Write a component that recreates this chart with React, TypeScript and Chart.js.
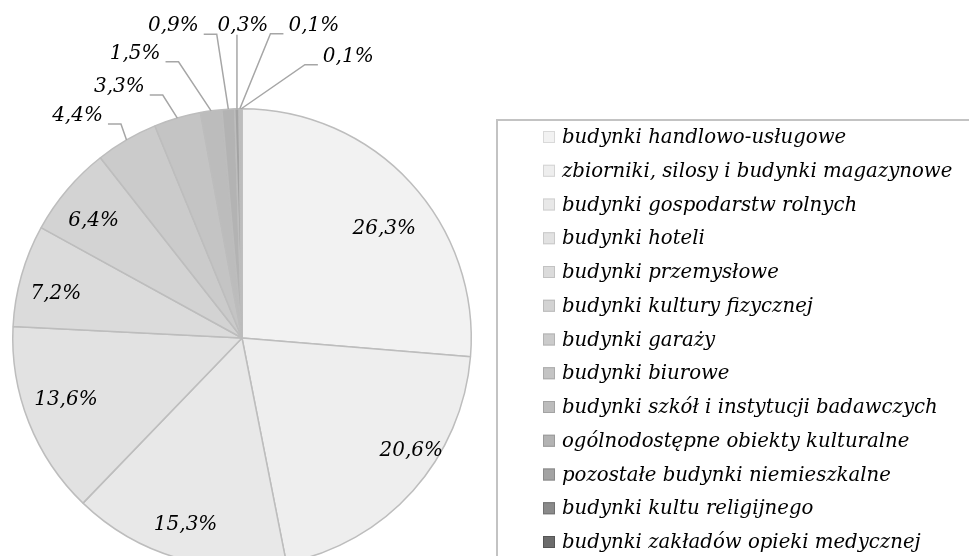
import React, { useEffect, useRef } from "react";
import { Chart, registerables } from "chart.js";

Chart.register(...registerables);

const CATEGORIES = [
  "budynki handlowo-usługowe",
  "zbiorniki, silosy i budynki magazynowe",
  "budynki gospodarstw rolnych",
  "budynki hoteli",
  "budynki przemysłowe",
  "budynki kultury fizycznej",
  "budynki garaży",
  "budynki biurowe",
  "budynki szkół i instytucji badawczych",
  "ogólnodostępne obiekty kulturalne",
  "pozostałe budynki niemieszkalne",
  "budynki kultu religijnego",
  "budynki zakładów opieki medycznej",
];

const SHARES = [26.3, 20.6, 15.3, 13.6, 7.2, 6.4, 4.4, 3.3, 1.5, 0.9, 0.3, 0.1, 0.1];

const COLORS = [
  "#f2f2f2", "#eeeeee", "#e8e8e8", "#e2e2e2", "#dbdbdb", "#d3d3d3", "#cbcbcb",
  "#c4c4c4", "#bcbcbc", "#b3b3b3", "#a3a3a3", "#8a8a8a", "#6c6c6c",
];

const SWATCH_BORDERS = [
  "#d9d9d9", "#d4d4d4", "#cfcfcf", "#c9c9c9", "#c2c2c2", "#bbbbbb", "#b3b3b3",
  "#ababab", "#a3a3a3", "#9a9a9a", "#8a8a8a", "#707070", "#555555",
];

// layout (not data)
const FONT_FAMILY = "'DejaVu Serif'";
const LABEL_FONT = `italic 20px ${FONT_FAMILY}`;
const LEGEND_FONT = `italic 19.7px ${FONT_FAMILY}`;
const TEXT_COLOR = "#000000";
const INSIDE_FRAC = 0.826;
const INSIDE_NUDGE: Record<number, [number, number]> = {
  0: [3, 19],
  1: [28, -13],
  2: [-3, 5],
  3: [0, -8],
  4: [-4, 7],
  5: [-4, 5],
};
const OUTSIDE_OFFSET: Record<number, [number, number]> = {
  6: [-49, -24],
  7: [-58, -31],
  8: [-76, -57],
  9: [-55, -83],
  10: [6, -83],
  11: [74, -83],
  12: [107, -52],
};

const fmt = (v: number) => v.toFixed(1).replace(".", ",") + "%";

const labelsPlugin = {
  id: "pieLabels",
  afterDatasetsDraw(chart: any) {
    const ctx = chart.ctx as CanvasRenderingContext2D;
    const meta = chart.getDatasetMeta(0);
    const values = chart.data.datasets[0].data as number[];
    ctx.save();
    ctx.font = LABEL_FONT;
    ctx.textAlign = "center";
    ctx.textBaseline = "middle";
    meta.data.forEach((arc: any, i: number) => {
      const { x, y, startAngle, endAngle, outerRadius } = arc.getProps(
        ["x", "y", "startAngle", "endAngle", "outerRadius"],
        true
      );
      const a = (startAngle + endAngle) / 2;
      const text = fmt(values[i]);
      if (OUTSIDE_OFFSET[i]) {
        const ax = x + Math.cos(a) * outerRadius;
        const ay = y + Math.sin(a) * outerRadius;
        const [dx, dy] = OUTSIDE_OFFSET[i];
        const lx = ax + dx;
        const ly = ay + dy;
        const w = ctx.measureText(text).width;
        const lineY = ly + 8;
        ctx.strokeStyle = "#a6a6a6";
        ctx.lineWidth = 1.5;
        ctx.beginPath();
        if (Math.abs(lx - ax) < w / 2) {
          ctx.moveTo(ax, ly + 9);
          ctx.lineTo(ax, ay);
        } else if (lx < ax) {
          const x0 = lx + w / 2 + 5;
          ctx.moveTo(x0, lineY);
          ctx.lineTo(x0 + 13, lineY);
          ctx.lineTo(ax, ay);
        } else {
          const x0 = lx - w / 2 - 5;
          ctx.moveTo(x0, lineY);
          ctx.lineTo(x0 - 13, lineY);
          ctx.lineTo(ax, ay);
        }
        ctx.stroke();
        ctx.fillStyle = TEXT_COLOR;
        ctx.fillText(text, lx, ly);
      } else {
        const r = outerRadius * INSIDE_FRAC;
        const [nx, ny] = INSIDE_NUDGE[i] || [0, 0];
        ctx.fillStyle = TEXT_COLOR;
        ctx.fillText(text, x + Math.cos(a) * r + nx, y + Math.sin(a) * r + ny);
      }
    });
    ctx.restore();
  },
};

const legendPlugin = {
  id: "boxLegend",
  afterDraw(chart: any) {
    const ctx = chart.ctx as CanvasRenderingContext2D;
    const labels = chart.data.labels as string[];
    const colors = chart.data.datasets[0].backgroundColor as string[];
    const boxLeft = 497;
    const boxTop = 120;
    ctx.save();
    ctx.strokeStyle = "#c3c3c3";
    ctx.lineWidth = 2;
    ctx.lineCap = "butt";
    ctx.beginPath();
    ctx.moveTo(boxLeft, boxTop);
    ctx.lineTo(chart.width, boxTop);
    ctx.moveTo(boxLeft, boxTop - 1);
    ctx.lineTo(boxLeft, chart.height);
    ctx.stroke();

    ctx.font = LEGEND_FONT;
    ctx.textAlign = "left";
    ctx.textBaseline = "middle";
    labels.forEach((lab, i) => {
      const cy = 137 + i * 33.75;
      ctx.fillStyle = colors[i];
      ctx.fillRect(543, cy - 6, 12, 12);
      ctx.strokeStyle = SWATCH_BORDERS[i];
      ctx.lineWidth = 1;
      ctx.strokeRect(543.5, cy - 5.5, 11, 11);
      ctx.fillStyle = TEXT_COLOR;
      ctx.fillText(lab, 562, cy + 1);
    });
    ctx.restore();
  },
};

export default function App() {
  const ref = useRef<HTMLCanvasElement | null>(null);
  useEffect(() => {
    if (!ref.current) return;
    const chart = new Chart(ref.current, {
      type: "pie",
      data: {
        labels: CATEGORIES,
        datasets: [
          {
            data: SHARES,
            backgroundColor: COLORS,
            borderColor: "#bdbdbd",
            borderWidth: 1.5,
          },
        ],
      },
      options: {
        responsive: false,
        animation: false,
        layout: { padding: { left: 12, top: 108, right: 497, bottom: 52 } },
        plugins: { legend: { display: false }, tooltip: { enabled: false } },
      },
      plugins: [labelsPlugin, legendPlugin],
    } as any);
    return () => chart.destroy();
  }, []);
  return (
    <div
      style={{
        position: "fixed",
        left: 0,
        top: 0,
        width: 969,
        height: 556,
        overflow: "hidden",
        background: "#fff",
      }}
    >
      <canvas ref={ref} width={969} height={620} style={{ display: "block", width: 969, height: 620 }} />
    </div>
  );
}
